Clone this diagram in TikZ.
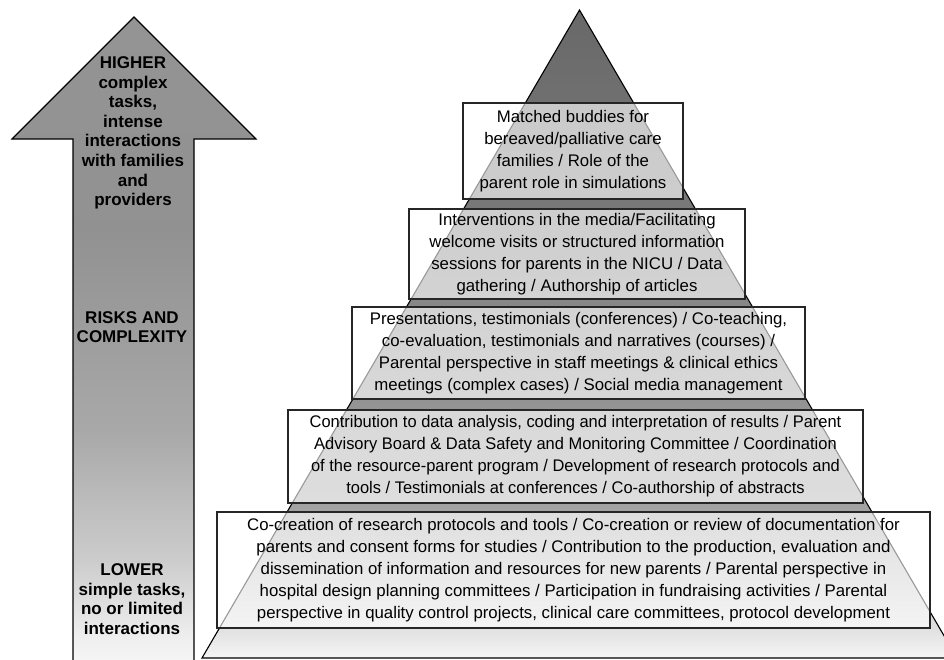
\documentclass[tikz,border=0pt]{standalone}
\usepackage{fontspec}
\setmainfont{Liberation Sans}
\newfontfamily\narrowfont[FakeStretch=0.98]{Liberation Sans}
\definecolor{pA}{gray}{0.41}
\definecolor{pB}{gray}{0.47}
\definecolor{pC}{gray}{0.53}
\definecolor{pD}{gray}{0.58}
\definecolor{pE}{gray}{0.635}
\definecolor{pF}{gray}{0.88}
\definecolor{pG}{gray}{0.96}
\definecolor{qA}{gray}{0.78}
\definecolor{qB}{gray}{0.805}
\definecolor{qC}{gray}{0.828}
\definecolor{qD}{gray}{0.848}
\definecolor{qE}{gray}{0.868}
\definecolor{qF}{gray}{0.955}
\definecolor{qG}{gray}{0.985}
\definecolor{aA}{gray}{0.58}
\definecolor{aB}{gray}{0.57}
\definecolor{aC}{gray}{0.66}
\definecolor{aD}{gray}{0.80}
\definecolor{aE}{gray}{0.94}
\definecolor{aF}{gray}{0.97}
\pgfdeclareverticalshading{pyrshade}{100bp}{color(0bp)=(pG); color(25bp)=(pG); color(27.3bp)=(pF); color(36.6bp)=(pE); color(44.5bp)=(pD); color(52.4bp)=(pC); color(59.95bp)=(pB); color(75bp)=(pA); color(100bp)=(pA)}
\pgfdeclareverticalshading{pyrlight}{100bp}{color(0bp)=(qG); color(25bp)=(qG); color(27.3bp)=(qF); color(36.6bp)=(qE); color(44.5bp)=(qD); color(52.4bp)=(qC); color(59.95bp)=(qB); color(75bp)=(qA); color(100bp)=(qA)}
\pgfdeclareverticalshading{arrshade}{100bp}{color(0bp)=(aF); color(25bp)=(aF); color(27.3bp)=(aE); color(33.4bp)=(aD); color(43.4bp)=(aC); color(58.7bp)=(aB); color(75bp)=(aA); color(100bp)=(aA)}
\tikzset{
  box/.style={draw=black!85, line width=1.1pt, fill=white,
    path picture={\shade[shading=pyrlight] (apex) -- (pr) -- (pl) -- cycle;
                  \draw[black!40, line width=1.1pt] (apex) -- (pr) -- (pl) -- cycle;},
    inner sep=0pt, align=center, font=\fontsize{16.8}{22}\selectfont},
  arrowtxt/.style={align=center, inner sep=0pt, font=\bfseries\fontsize{17}{19.6}\selectfont},
  outline/.style={draw=black, line width=1.1pt, line join=miter}
}
\begin{document}
\begin{tikzpicture}[x=1pt,y=-1pt]
\useasboundingbox (0,0) rectangle (944,659);
\clip (0,0) rectangle (944,659);
% arrow
\coordinate (tip) at (134,17);
\coordinate (hl) at (12,139);
\coordinate (hr) at (256,139);
\coordinate (sl) at (73,139);
\coordinate (sr) at (194,139);
\coordinate (bl) at (73,670);
\coordinate (br) at (194,670);
\shade[shading=arrshade] (tip) -- (hr) -- (sr) -- (br) -- (bl) -- (sl) -- (hl) -- cycle;
\draw[outline] (bl) -- (sl) -- (hl) -- (tip) -- (hr) -- (sr) -- (br);
% pyramid
\coordinate (apex) at (579.5,10);
\coordinate (pl) at (202,658);
\coordinate (pr) at (957,658);
\shade[shading=pyrshade] (apex) -- (pr) -- (pl) -- cycle;
\draw[outline] (apex) -- (pr) -- (pl) -- cycle;
% arrow texts
\node[arrowtxt] (hi) at (133,133) {HIGHER\\complex\\tasks,\\intense\\interactions\\with families\\and\\providers};
\node[arrowtxt] (rk) at (132,327) {RISKS AND\\COMPLEXITY};
\node[arrowtxt] (lo) at (132,599) {LOWER\\simple tasks,\\no or limited\\interactions};
% boxes
\node[box, minimum width=220pt, minimum height=96pt] (b1) at (573,151)
  {Matched buddies for\\bereaved/palliative care\\families / Role of the\\parent role in simulations};
\node[box, minimum width=336pt, minimum height=90pt] (b2) at (577,254)
  {Interventions in the media/Facilitating\\welcome visits or structured information\\sessions for parents in the NICU / Data\\gathering / Authorship of articles};
\node[box, minimum width=453pt, minimum height=92pt] (b3) at (578.5,353)
  {Presentations, testimonials (conferences) / Co-teaching,\\co-evaluation, testimonials and narratives (courses) /\\Parental perspective in staff meetings \& clinical ethics\\meetings (complex cases) / Social media management};
\node[box, minimum width=575pt, minimum height=93pt, font=\narrowfont\fontsize{16.8}{22}\selectfont] (b4) at (575.5,456.5)
  {Contribution to data analysis, coding and interpretation of results / Parent\\Advisory Board \& Data Safety and Monitoring Committee / Coordination\\of the resource-parent program / Development of research protocols and\\tools / Testimonials at conferences / Co-authorship of abstracts};
\node[box, minimum width=713pt, minimum height=116pt] (b5) at (573.5,570)
  {Co-creation of research protocols and tools / Co-creation or review of documentation for\\parents and consent forms for studies / Contribution to the production, evaluation and\\dissemination of information and resources for new parents / Parental perspective in\\hospital design planning committees / Participation in fundraising activities / Parental\\perspective in quality control projects, clinical care committees, protocol development};
\end{tikzpicture}
\end{document}
